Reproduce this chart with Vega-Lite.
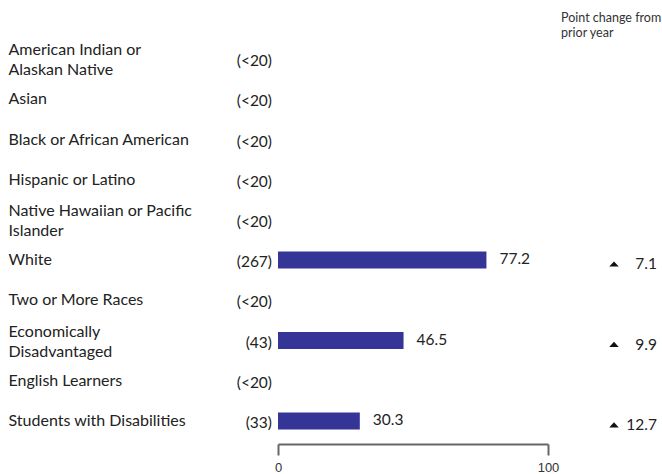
{
  "$schema": "https://vega.github.io/schema/vega-lite/v6.json",
  "width": 270,
  "height": 402,
  "autosize": {"type": "none"},
  "padding": {"left": 278, "top": 39, "right": 114, "bottom": 33},
  "background": "white",
  "title": {
    "text": ["Point change from", "prior year"],
    "anchor": "start",
    "frame": "group",
    "dx": 283,
    "offset": 0,
    "font": "Lato",
    "fontSize": 12.5,
    "fontWeight": "normal",
    "color": "#333333",
    "lineHeight": 15
  },
  "config": {
    "view": {"stroke": null},
    "text": {"font": "Lato", "fontSize": 15.5, "color": "#222222"}
  },
  "data": {
    "values": [
      {"group": "American Indian or|Alaskan Native", "order": 1, "n": "(<20)", "value": null, "change": null},
      {"group": "Asian", "order": 2, "n": "(<20)", "value": null, "change": null},
      {"group": "Black or African American", "order": 3, "n": "(<20)", "value": null, "change": null},
      {"group": "Hispanic or Latino", "order": 4, "n": "(<20)", "value": null, "change": null},
      {"group": "Native Hawaiian or Pacific|Islander", "order": 5, "n": "(<20)", "value": null, "change": null},
      {"group": "White", "order": 6, "n": "(267)", "value": 77.2, "change": 7.1},
      {"group": "Two or More Races", "order": 7, "n": "(<20)", "value": null, "change": null},
      {"group": "Economically|Disadvantaged", "order": 8, "n": "(43)", "value": 46.5, "change": 9.9},
      {"group": "English Learners", "order": 9, "n": "(<20)", "value": null, "change": null},
      {"group": "Students with Disabilities", "order": 10, "n": "(33)", "value": 30.3, "change": 12.7}
    ]
  },
  "encoding": {
    "y": {
      "field": "group",
      "type": "nominal",
      "sort": [
        "American Indian or|Alaskan Native",
        "Asian",
        "Black or African American",
        "Hispanic or Latino",
        "Native Hawaiian or Pacific|Islander",
        "White",
        "Two or More Races",
        "Economically|Disadvantaged",
        "English Learners",
        "Students with Disabilities"
      ],
      "scale": {"paddingInner": 0, "paddingOuter": 0},
      "axis": {
        "title": null,
        "domain": false,
        "ticks": false,
        "tickSize": 0,
        "labelAlign": "left",
        "labelPadding": 270,
        "labelLimit": 265,
        "labelFont": "Lato",
        "labelFontSize": 16,
        "labelColor": "#222222",
        "labelLineHeight": 20,
        "labelOffset": {"condition": {"test": "indexof(datum.value, '|') >= 0", "value": -9}, "value": 0},
        "labelExpr": "split(datum.label, '|')"
      }
    }
  },
  "layer": [
    {
      "mark": {"type": "bar", "size": 17, "color": "#353598"},
      "transform": [{"filter": "datum.value != null"}],
      "encoding": {
        "x": {
          "field": "value",
          "type": "quantitative",
          "scale": {"domain": [0, 100], "nice": false},
          "axis": {
            "title": null,
            "values": [0, 100],
            "grid": false,
            "offset": 3,
            "domainColor": "#666666",
            "domainWidth": 2,
            "tickColor": "#666666",
            "tickWidth": 2,
            "tickSize": 11,
            "labelPadding": 6,
            "labelFont": "Liberation Sans",
            "labelFontSize": 13,
            "labelColor": "#333333",
            "labelFlush": false
          }
        }
      }
    },
    {
      "mark": {"type": "text", "align": "right", "baseline": "middle", "dx": -6, "dy": 2},
      "encoding": {
        "x": {"datum": 0},
        "text": {"field": "n"}
      }
    },
    {
      "mark": {"type": "text", "align": "left", "baseline": "middle", "dx": 13, "dy": -1},
      "transform": [{"filter": "datum.value != null"}],
      "encoding": {
        "x": {"field": "value", "type": "quantitative"},
        "text": {"field": "value", "type": "quantitative", "format": ".1f"}
      }
    },
    {
      "mark": {"type": "point", "shape": "M-1,0.55L1,0.55L0,-0.55Z", "filled": true, "color": "#111111", "size": 90, "opacity": 1},
      "transform": [{"filter": "datum.change != null"}],
      "encoding": {
        "x": {"datum": 100},
        "xOffset": {"value": 66},
        "yOffset": {"value": 24}
      }
    },
    {
      "mark": {"type": "text", "align": "right", "baseline": "middle", "dx": 109, "dy": 4},
      "transform": [{"filter": "datum.change != null"}],
      "encoding": {
        "x": {"datum": 100},
        "text": {"field": "change", "type": "quantitative", "format": ".1f"}
      }
    }
  ]
}
